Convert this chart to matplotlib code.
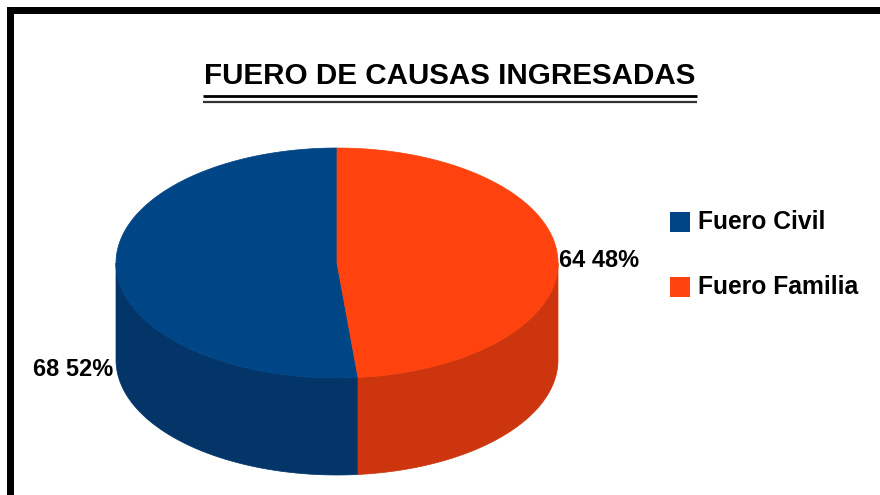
import matplotlib.pyplot as plt
import numpy as np
from matplotlib.patches import Polygon, Rectangle

plt.rcParams['font.family'] = ['Liberation Sans', 'DejaVu Sans']

# data
categories = ['Fuero Civil', 'Fuero Familia']
counts = [68, 64]
percents = [52, 48]
top_colors = ['#004586', '#ff420e']
side_colors = ['#033568', '#cc350d']
title = 'FUERO DE CAUSAS INGRESADAS'

W, H = 880, 495
fig = plt.figure(figsize=(W / 100, H / 100), dpi=100)
ax = fig.add_axes([0, 0, 1, 1])
ax.set_xlim(0, W)
ax.set_ylim(H, 0)
ax.axis('off')

# frame (left + top, the rest is cut off)
ax.add_patch(Rectangle((7, 7), W, 7, color='black', lw=0))
ax.add_patch(Rectangle((7, 7), 7, H, color='black', lw=0))

# title with double underline
ax.text(450, 76, title, ha='center', va='center', fontsize=21.3,
        fontweight='bold', color='black')
ax.plot([203, 697], [95.5, 95.5], color='black', lw=2.0, solid_capstyle='butt')
ax.plot([203, 697], [101.7, 101.7], color='#333333', lw=1.6, solid_capstyle='butt')

# 3d pie geometry (pixels)
cx, cy, a, b, depth = 337, 263, 221, 115, 97


def pt(theta_deg, dy=0.0):
    t = np.radians(theta_deg)
    return cx + a * np.cos(t), cy - b * np.sin(t) + dy


fracs = np.array(counts) / sum(counts)
start = 90.0
angles = []
for f in fracs:
    angles.append((start, start + f * 360))
    start += f * 360

# side faces (front half only: 180..360 deg)
for (t1, t2), col in zip(angles, side_colors):
    lo, hi = max(t1, 180), min(t2, 360)
    if lo >= hi:
        continue
    th = np.linspace(lo, hi, 200)
    xs, ys = pt(th)
    xb, yb = pt(th[::-1], depth)
    poly = np.column_stack([np.concatenate([xs, xb]), np.concatenate([ys, yb])])
    ax.add_patch(Polygon(poly, closed=True, fc=col, ec=col, lw=0.5))

# top faces
for (t1, t2), col in zip(angles, top_colors):
    th = np.linspace(t1, t2, 300)
    xs, ys = pt(th)
    poly = np.column_stack([np.concatenate([[cx], xs]), np.concatenate([[cy], ys])])
    ax.add_patch(Polygon(poly, closed=True, fc=col, ec=col, lw=0.5))

# value labels
mid_civil = np.mean(angles[0])
mid_fam = np.mean(angles[1])
x0, y0 = pt(mid_civil, depth)
ax.text(x0 - 3, y0 + 4, f'{counts[0]} {percents[0]}%', ha='right', va='center',
        fontsize=17, fontweight='bold', color='black')
x1, y1 = pt(mid_fam)
ax.text(x1 + 1, y1 + 3, f'{counts[1]} {percents[1]}%', ha='left', va='center',
        fontsize=17, fontweight='bold', color='black')

# legend
leg_y = [222, 287]
for cat, col, ly in zip(categories, top_colors, leg_y):
    ax.add_patch(Rectangle((670, ly - 10), 20, 20, fc=col, ec=col, lw=0))
    ax.text(698, ly, cat, ha='left', va='center', fontsize=17.7,
            fontweight='bold', color='black')

fig.savefig('out.png', dpi=100)
